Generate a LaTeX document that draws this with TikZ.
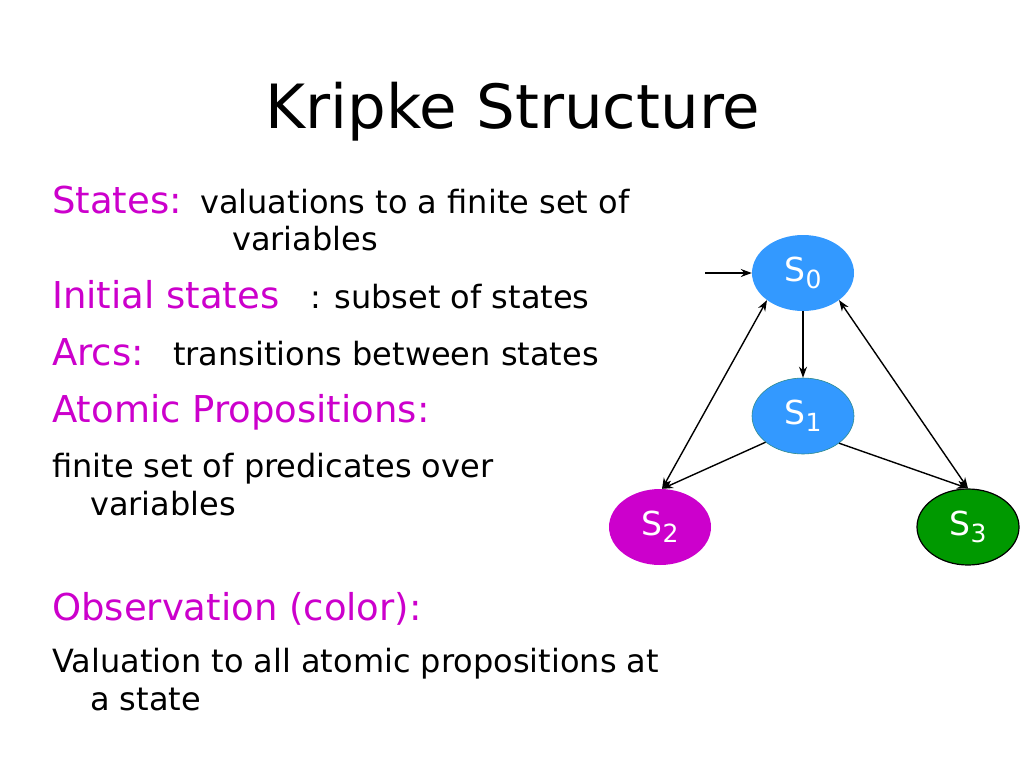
\documentclass[tikz,border=0pt]{standalone}
\usepackage{fontspec}
\setmainfont{DejaVu Sans}
\usetikzlibrary{shapes.geometric,arrows.meta}
\definecolor{mag}{HTML}{CC00CC}
\definecolor{sblue}{HTML}{3399FF}
\definecolor{sgreen}{HTML}{009900}
\definecolor{steal}{HTML}{2E8B8B}
\newcommand{\stlab}[1]{S\raisebox{-7pt}{\fontsize{25}{28}\selectfont #1}}
\tikzset{
  txt/.style={anchor=base west,inner sep=0pt,font=\fontsize{32}{36}\selectfont,text=black},
  head/.style={anchor=base west,inner sep=0pt,font=\fontsize{37}{42}\selectfont,text=mag},
  st/.style={ellipse,minimum width=102pt,minimum height=76pt,inner sep=0pt,text=white,font=\fontsize{33}{38}\selectfont},
  arr/.style={-{Stealth[length=11pt,width=8pt]},line width=1.4pt},
  darr/.style={{Stealth[length=11pt,width=8pt]}-{Stealth[length=11pt,width=8pt]},line width=1.4pt}
}
\begin{document}
\begin{tikzpicture}[x=1pt,y=1pt]
\useasboundingbox[fill=white] (0,0) rectangle (1024,-768);
\node[anchor=base,inner sep=0pt,font=\fontsize{61}{70}\selectfont] (title) at (513,-128) {Kripke Structure};
\node[head] (h1) at (52,-213) {States:};
\node[txt] (t1) at (200,-213) {valuations to a finite set of};
\node[txt] (t1b) at (232,-250) {variables};
\node[head] (h2) at (52,-308) {Initial states};
\node[txt] (t2) at (310,-308) {: subset of states};
\node[head] (h3) at (52,-365) {Arcs:};
\node[txt] (t3) at (173,-365) {transitions between states};
\node[head] (h4) at (52,-422) {Atomic Propositions:};
\node[txt] (t4) at (52,-477) {finite set of predicates over};
\node[txt] (t4b) at (90,-515) {variables};
\node[head] (h5) at (52,-620) {Observation (color):};
\node[txt] (t5) at (52,-672) {Valuation to all atomic propositions at};
\node[txt] (t5b) at (90,-710) {a state};

\node[st,fill=sblue] (s0) at (803,-273) {\stlab{0}};
\node[st,fill=sblue,draw=steal,line width=0.6pt] (s1) at (803,-416) {\stlab{1}};
\node[st,fill=mag] (s2) at (660,-527) {\stlab{2}};
\node[st,fill=sgreen,draw=black,line width=1.2pt] (s3) at (968,-527) {\stlab{3}};
\coordinate (init) at (705,-273);

\draw[arr] (init) -- (s0.west);
\draw[arr] (s0.south) -- (s1.north);
\draw[darr] (s0.217) -- (s2.87);
\draw[darr] (s0.323) -- (s3.north);
\draw[arr] (s1.215) -- (s2.87);
\draw[arr] (s1.323) -- (s3.north);
\end{tikzpicture}
\end{document}
